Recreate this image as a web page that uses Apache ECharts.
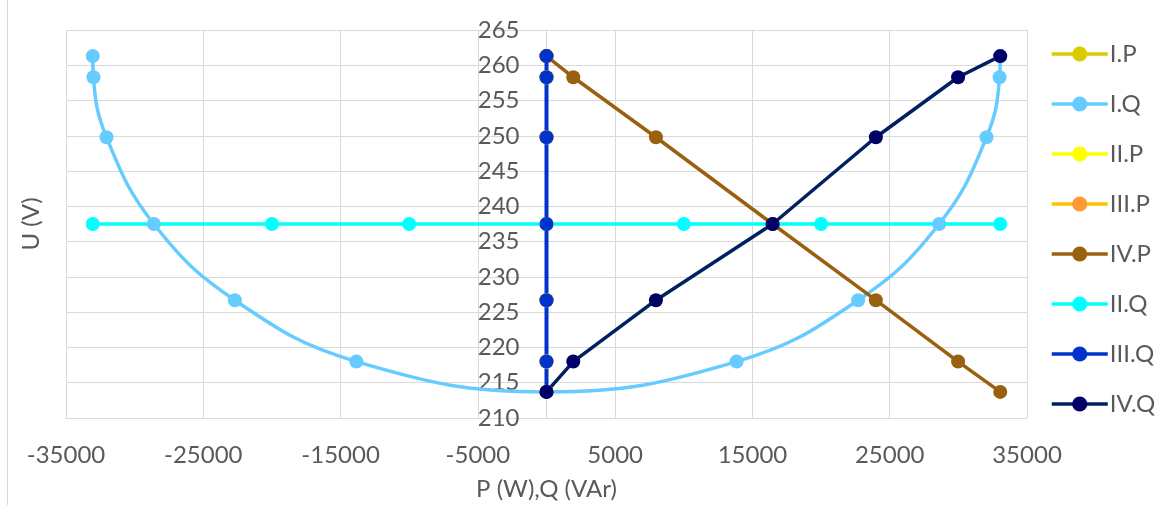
<!DOCTYPE html>
<html>
<head>
<meta charset="utf-8">
<script src="https://cdn.jsdelivr.net/npm/echarts@6/dist/echarts.min.js"></script>
<style>
html,body{margin:0;padding:0;background:#fff;}
#chart{width:1169px;height:505px;}
</style>
</head>
<body>
<div id="chart"></div>
<script>
// ---- data ----
const seriesNames = ['I.P', 'I.Q', 'II.P', 'III.P', 'IV.P', 'II.Q', 'III.Q', 'IV.Q'];
const uLevels = [261.3, 258.3, 249.8, 237.5, 226.7, 218.0, 213.7];
const uLevelsUp = [213.7, 218.0, 226.7, 237.5, 249.8, 258.3, 261.3];

const pI_x = [0, 0, 0, 0, 0, 0, 0];
const pI_u = uLevels;
const qI_x = [-33050, -33000, -32050, -28600, -22700, -13850, 0, 13850, 22700, 28600, 32050, 33000, 33050];
const qI_u = [261.3, 258.3, 249.8, 237.5, 226.7, 218.0, 213.7, 218.0, 226.7, 237.5, 249.8, 258.3, 261.3];
const pII_x = [0, 0, 0, 0, 0, 0, 0];
const pII_u = uLevels;
const pIII_x = [0, 0, 0, 0, 0, 0, 0];
const pIII_u = uLevels;
const pIV_x = [0, 1950, 7970, 16470, 23990, 29980, 33050];
const pIV_u = uLevels;
const qII_x = [-33050, -20000, -10000, 0, 10000, 20000, 33050];
const qII_u = [237.5, 237.5, 237.5, 237.5, 237.5, 237.5, 237.5];
const qIII_x = [0, 0, 0, 0, 0, 0, 0];
const qIII_u = uLevels;
const qIV_x = [0, 1950, 7970, 16470, 23990, 29980, 33050];
const qIV_u = uLevelsUp;

const X_MIN = -35000, X_MAX = 35000, X_STEP = 10000;
const Y_MIN = 210, Y_MAX = 265, Y_STEP = 5;

// ---- styling / layout ----
const FONT = 'Lato, "Open Sans", sans-serif';
const TXT = '#595959';
const GRID = '#D9D9D9';
const GRID_LEFT = 66, GRID_TOP = 30, GRID_W = 961, GRID_H = 388;
// vertical axis crosses the horizontal axis at P/Q = 0
const Y_AXIS_SHIFT = GRID_W * (0 - X_MIN) / (X_MAX - X_MIN);

function pairs(xs, ys) { return xs.map((x, i) => [x, ys[i]]); }

const defs = [
  { name: 'I.P',   x: pI_x,   u: pI_u,   line: '#D9CC00', mark: '#D9CC00', w: 2.5 },
  { name: 'I.Q',   x: qI_x,   u: qI_u,   line: '#66CCFF', mark: '#66CCFF', w: 3.5, smooth: true },
  { name: 'II.P',  x: pII_x,  u: pII_u,  line: '#FFFF00', mark: '#FFFF00', w: 2.5 },
  { name: 'III.P', x: pIII_x, u: pIII_u, line: '#FFC000', mark: '#FF9933', w: 2.5 },
  { name: 'IV.P',  x: pIV_x,  u: pIV_u,  line: '#996010', mark: '#996010', w: 3.5 },
  { name: 'II.Q',  x: qII_x,  u: qII_u,  line: '#00FFFF', mark: '#00FFFF', w: 3.5 },
  { name: 'III.Q', x: qIII_x, u: qIII_u, line: '#0033CC', mark: '#0033CC', w: 4 },
  { name: 'IV.Q',  x: qIV_x,  u: qIV_u,  line: '#002060', mark: '#000066', w: 3.5 }
];

const series = defs.map(d => ({
  name: d.name,
  type: 'line',
  data: pairs(d.x, d.u),
  smooth: d.smooth ? 0.42 : false,
  symbol: 'circle',
  symbolSize: 14,
  showSymbol: true,
  lineStyle: { color: d.line, width: d.w },
  itemStyle: { color: d.mark, borderColor: d.mark, borderWidth: 0 },
  emphasis: { disabled: true }
}));

const chart = echarts.init(document.getElementById('chart'), null, { renderer: 'canvas' });
chart.setOption({
  animation: false,
  backgroundColor: '#ffffff',
  textStyle: { fontFamily: FONT },
  grid: { left: GRID_LEFT, top: GRID_TOP, width: GRID_W, height: GRID_H, containLabel: false, outerBoundsMode: 'none' },
  legend: {
    orient: 'vertical',
    left: 1045,
    top: 37,
    itemWidth: 56,
    itemHeight: 19,
    itemGap: 26,
    data: seriesNames,
    lineStyle: { width: 3.5 },
    textStyle: { fontFamily: FONT, fontSize: 24, lineHeight: 24, color: TXT, padding: [0, 0, 0, -3] }
  },
  xAxis: {
    type: 'value',
    min: X_MIN,
    max: X_MAX,
    interval: X_STEP,
    name: 'P (W),Q (VAr)',
    nameLocation: 'middle',
    nameGap: 59,
    nameTextStyle: { fontFamily: FONT, fontSize: 24, color: TXT },
    axisLine: { show: true, onZero: false, lineStyle: { color: GRID, width: 1 } },
    axisTick: { show: false },
    axisLabel: { margin: 25, fontFamily: FONT, fontSize: 24, color: TXT,
      formatter: v => String(v) },
    splitLine: { show: true, lineStyle: { color: GRID, width: 1 } }
  },
  yAxis: {
    type: 'value',
    min: Y_MIN,
    max: Y_MAX,
    interval: Y_STEP,
    position: 'left',
    offset: -Y_AXIS_SHIFT,
    name: 'U (V)',
    nameLocation: 'middle',
    nameGap: 503,
    nameTextStyle: { fontFamily: FONT, fontSize: 24, color: TXT },
    axisLine: { show: true, onZero: false, lineStyle: { color: GRID, width: 1 } },
    axisTick: { show: false },
    axisLabel: { margin: 27, fontFamily: FONT, fontSize: 24, color: TXT },
    splitLine: { show: true, lineStyle: { color: GRID, width: 1 } }
  },
  graphic: [
    { type: 'line', shape: { x1: 7.5, y1: 0, x2: 7.5, y2: 505 }, style: { stroke: GRID, lineWidth: 1 }, silent: true }
  ],
  series: series
});
</script>
</body>
</html>
